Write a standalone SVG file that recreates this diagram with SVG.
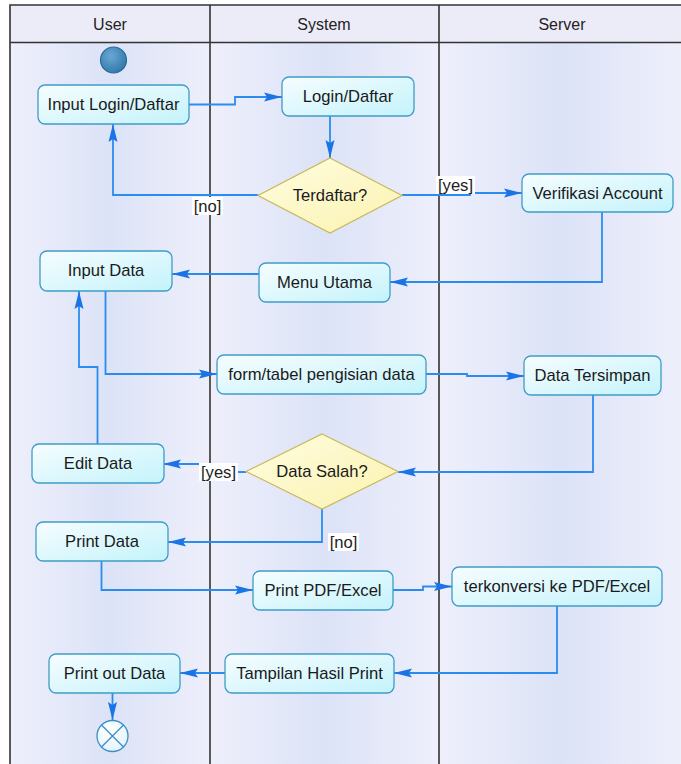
<svg xmlns="http://www.w3.org/2000/svg" width="681" height="764" viewBox="0 0 681 764">
  <defs>
    <style>
      .lane-sep { stroke: #333333; stroke-width: 1.6; fill: none; }
      .head { font-family: "Liberation Sans", Arial, sans-serif; font-size: 16px; fill: #222222; text-anchor: middle; }
      .act rect { fill: url(#actFill); stroke: #3f9cc6; stroke-width: 1.3; }
      .act text, .dec text { font-family: "Liberation Sans", Arial, sans-serif; font-size: 16.6px; fill: #1a1a1a; text-anchor: middle; }
      .dec polygon { fill: url(#decFill); stroke: #c9b85a; stroke-width: 1.2; }
      .flow path { fill: none; stroke: #2a8cf0; stroke-width: 1.8; marker-end: url(#arrow); }
      .guard rect { fill: #ffffff; }
      .guard text { font-family: "Liberation Sans", Arial, sans-serif; font-size: 16.6px; fill: #222222; text-anchor: middle; }
    </style>
    <linearGradient id="laneFill" x1="0" y1="0" x2="1" y2="0">
      <stop offset="0" stop-color="#eeeffb"/>
      <stop offset="0.5" stop-color="#dce3f7"/>
      <stop offset="1" stop-color="#eeeffb"/>
    </linearGradient>
    <linearGradient id="actFill" x1="0" y1="0" x2="1" y2="1">
      <stop offset="0" stop-color="#f6fdff"/>
      <stop offset="1" stop-color="#c4f3fb"/>
    </linearGradient>
    <linearGradient id="decFill" x1="0" y1="0" x2="1" y2="1">
      <stop offset="0" stop-color="#fffde0"/>
      <stop offset="1" stop-color="#fbf2b0"/>
    </linearGradient>
    <radialGradient id="startFill" cx="0.4" cy="0.35" r="0.7">
      <stop offset="0" stop-color="#6aa8d2"/>
      <stop offset="1" stop-color="#2f77aa"/>
    </radialGradient>
    <radialGradient id="endFill" cx="0.4" cy="0.35" r="0.7">
      <stop offset="0" stop-color="#ffffff"/>
      <stop offset="1" stop-color="#e2f4fb"/>
    </radialGradient>
    <marker id="arrow" markerUnits="userSpaceOnUse" markerWidth="20" markerHeight="12" refX="18" refY="5" orient="auto">
      <path d="M0,0.5 L18,5 L0,9.5 L3,5 Z" fill="#1a74e6"/>
    </marker>
  </defs>

  <!-- swimlane frame -->
  <g id="lanes">
    <rect x="0" y="0" width="681" height="764" fill="#ffffff"/>
    <rect x="10" y="5" width="200" height="760" fill="url(#laneFill)"/>
    <rect x="210" y="5" width="229" height="760" fill="url(#laneFill)"/>
    <rect x="439" y="5" width="243" height="760" fill="url(#laneFill)"/>
    <rect x="10" y="5" width="672" height="37.5" fill="#ececf8"/>
    <path class="lane-sep" d="M10,766 V5 H683 M10,42.5 H683 M210,5 V766 M439,5 V766"/>
    <text class="head" x="110" y="30">User</text>
    <text class="head" x="324" y="30">System</text>
    <text class="head" x="562" y="30">Server</text>
  </g>

  <!-- connectors -->
  <g id="connectors" class="flow">
    <path d="M189,104.5 H235 V97 H282"/>
    <path d="M330,116 V158"/>
    <path d="M258,195 H113 V124"/>
    <path d="M402,195 H470 V193 H522"/>
    <path d="M602,212 V282 H390"/>
    <path d="M259,274 H172"/>
    <path d="M105.5,291 V374 H217"/>
    <path d="M97.5,444 V367 H79 V291"/>
    <path d="M425,374 H467 V376 H524"/>
    <path d="M593,395 V472 H398"/>
    <path d="M246,472 H215 V464 H163"/>
    <path d="M322,508 V542 H168"/>
    <path d="M101.5,561 V590 H253"/>
    <path d="M392,590 H423 V586.5 H452"/>
    <path d="M557,606 V673 H394"/>
    <path d="M225,673 H180"/>
    <path d="M112.5,693 V720"/>
  </g>

  <!-- guard labels -->
  <g id="guard-no1" class="guard">
    <rect x="192" y="197" width="31" height="18"/>
    <text x="207.5" y="211.5">[no]</text>
  </g>
  <g id="guard-yes1" class="guard">
    <rect x="436" y="176" width="39" height="18"/>
    <text x="455.5" y="190.5">[yes]</text>
  </g>
  <g id="guard-yes2" class="guard">
    <rect x="199" y="463" width="39" height="18"/>
    <text x="218.5" y="477.5">[yes]</text>
  </g>
  <g id="guard-no2" class="guard">
    <rect x="328" y="533" width="31" height="18"/>
    <text x="343.5" y="547.5">[no]</text>
  </g>

  <!-- nodes -->
  <g id="start">
    <circle cx="113.5" cy="60" r="13" fill="url(#startFill)" stroke="#2a6b99" stroke-width="1.2"/>
  </g>

  <g id="input-login" class="act">
    <rect x="38" y="85" width="151" height="39" rx="7"/>
    <text x="113.5" y="110">Input Login/Daftar</text>
  </g>
  <g id="login-daftar" class="act">
    <rect x="282" y="77" width="132" height="39" rx="7"/>
    <text x="348" y="102">Login/Daftar</text>
  </g>
  <g id="terdaftar" class="dec">
    <polygon points="330,158 402,195.5 330,233 258,195.5"/>
    <text x="330" y="201">Terdaftar?</text>
  </g>
  <g id="verifikasi" class="act">
    <rect x="522" y="174" width="151" height="38" rx="7"/>
    <text x="597.5" y="199">Verifikasi Account</text>
  </g>
  <g id="input-data" class="act">
    <rect x="40" y="251" width="132" height="40" rx="7"/>
    <text x="106" y="276">Input Data</text>
  </g>
  <g id="menu-utama" class="act">
    <rect x="259" y="263" width="131" height="39" rx="7"/>
    <text x="324.5" y="288">Menu Utama</text>
  </g>
  <g id="form-tabel" class="act">
    <rect x="217" y="355" width="209" height="39" rx="7"/>
    <text x="321.5" y="380">form/tabel pengisian data</text>
  </g>
  <g id="data-tersimpan" class="act">
    <rect x="524" y="356" width="137" height="39" rx="7"/>
    <text x="592.5" y="381">Data Tersimpan</text>
  </g>
  <g id="data-salah" class="dec">
    <polygon points="322,434 398,471.5 322,509 246,471.5"/>
    <text x="322" y="477">Data Salah?</text>
  </g>
  <g id="edit-data" class="act">
    <rect x="32" y="444" width="132" height="39" rx="7"/>
    <text x="98" y="469">Edit Data</text>
  </g>
  <g id="print-data" class="act">
    <rect x="36" y="522" width="132" height="39" rx="7"/>
    <text x="102" y="547">Print Data</text>
  </g>
  <g id="print-pdf" class="act">
    <rect x="253" y="571" width="140" height="39" rx="7"/>
    <text x="323" y="596">Print PDF/Excel</text>
  </g>
  <g id="terkonversi" class="act">
    <rect x="452" y="567" width="210" height="39" rx="7"/>
    <text x="557" y="592">terkonversi ke PDF/Excel</text>
  </g>
  <g id="print-out" class="act">
    <rect x="49" y="654" width="131" height="39" rx="7"/>
    <text x="114.5" y="679">Print out Data</text>
  </g>
  <g id="tampilan" class="act">
    <rect x="225" y="654" width="169" height="39" rx="7"/>
    <text x="309.5" y="679">Tampilan Hasil Print</text>
  </g>

  <g id="end">
    <circle cx="112.5" cy="736" r="15.5" fill="url(#endFill)" stroke="#3d8fc4" stroke-width="1.3"/>
    <path d="M101.5,725 L123.5,747 M123.5,725 L101.5,747" stroke="#3d8fc4" stroke-width="1.3"/>
  </g>
</svg>
